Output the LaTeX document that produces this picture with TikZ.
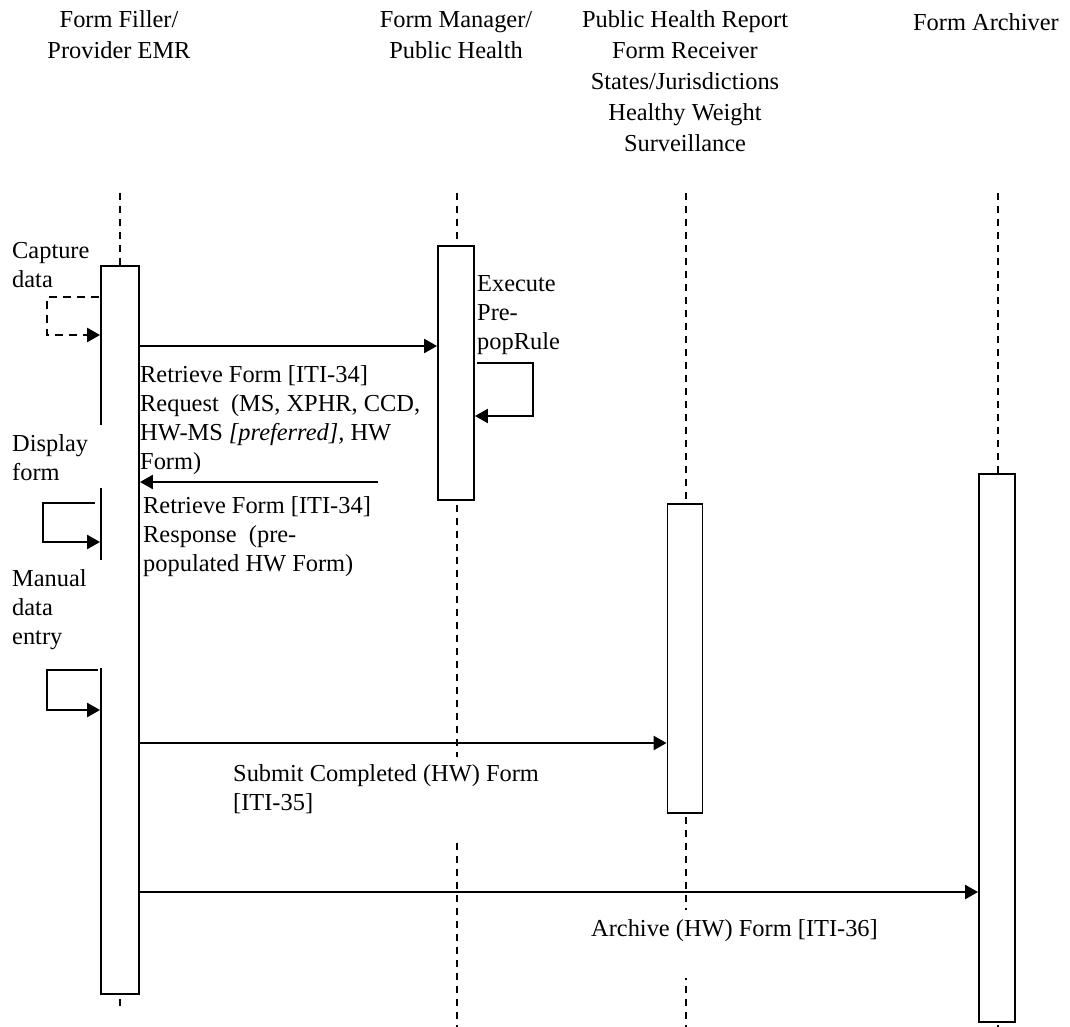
\documentclass[tikz,border=0pt]{standalone}
\usepackage{fontspec}
\setmainfont{Liberation Serif}
\usetikzlibrary{arrows.meta}
\begin{document}
\begin{tikzpicture}[x=1pt,y=-1pt,
  font=\fontsize{24.4}{29}\selectfont,
  lifeline/.style={line width=1.8pt, dash pattern=on 7pt off 6pt},
  actbar/.style={draw, fill=white, line width=1.9pt, inner sep=0pt, minimum width=36pt},
  msg/.style={line width=2.5pt, -{Triangle[length=13pt,width=14pt]}},
  dmsg/.style={msg, dash pattern=on 8pt off 6pt},
  lbl/.style={anchor=base west, inner sep=0pt},
  hdr/.style={anchor=base, inner sep=0pt, font=\fontsize{24.4}{31}\selectfont},
  labelmask/.style={fill=white}
]
\useasboundingbox[fill=white] (0,0) rectangle (1070,1027);

% headers
\node[hdr] (hfill) at (119,28) {\parbox[t]{220pt}{\centering Form Filler/\\Provider EMR}};
\node[hdr] (hman) at (456,28) {\parbox[t]{220pt}{\centering Form Manager/\\Public Health}};
\node[hdr] (hphr) at (685,28) {\parbox[t]{240pt}{\centering Public Health Report\\Form Receiver\\States/Jurisdictions\\Healthy Weight\\Surveillance}};
\node[hdr] (harc) at (986,31) {Form Archiver};

% lifelines
\coordinate (lf1) at (120,193); \coordinate (lf2) at (120,1009);
\coordinate (lm1) at (457,193); \coordinate (lm2) at (457,1027);
\coordinate (lp1) at (686,193); \coordinate (lp2) at (686,1027);
\coordinate (la1) at (998,193); \coordinate (la2) at (998,1027);
\draw[lifeline] (lf1) -- (lf2);
\draw[lifeline] (lm1) -- (lm2);
\draw[lifeline] (lp1) -- (lp2);
\draw[lifeline] (la1) -- (la2);

% activation bars
\node[actbar, minimum width=38pt, minimum height=728pt] (fbar) at (120,630) {};
\node[actbar, minimum height=254pt] (mbar) at (456,373) {};
\node[actbar, minimum width=35pt, minimum height=309pt] (pbar) at (685,658.5) {};
\node[actbar, minimum height=548pt] (abar) at (997,748) {};

% label backgrounds that hide lines
\fill[labelmask] (10,425) rectangle (102.5,488);
\fill[labelmask] (10,560) rectangle (102.5,668);
\fill[labelmask] (228,757) rectangle (548,840);
\fill[labelmask] (585,910) rectangle (885,978);

% messages
\coordinate (cap0) at (99,297);
\draw[dmsg] (cap0) -- (47,297) -- (47,335) -- (fbar.west |- 0,335);
\draw[msg] (fbar.east |- 0,346) -- (mbar.west |- 0,346);
\coordinate (pre0) at (477,363);
\draw[msg] (pre0) -- (533,363) -- (533,416) -- (mbar.east |- 0,416);
\coordinate (resp0) at (378,482);
\draw[msg] (resp0) -- (fbar.east |- 0,482);
\coordinate (disp0) at (95,503);
\draw[msg] (disp0) -- (43,503) -- (43,542) -- (fbar.west |- 0,542);
\coordinate (man0) at (98,670);
\draw[msg] (man0) -- (47,670) -- (47,710) -- (fbar.west |- 0,710);
\draw[msg] (fbar.east |- 0,743) -- (pbar.west |- 0,743);
\draw[msg] (fbar.east |- 0,892) -- (abar.west |- 0,892);

% labels
\node[lbl] (capt) at (12,258) {\parbox[t]{90pt}{Capture\\data}};
\node[lbl] (disp) at (12,451) {\parbox[t]{90pt}{Display\\form}};
\node[lbl] (manu) at (12,586) {\parbox[t]{90pt}{Manual\\data\\entry}};
\node[lbl] (exec) at (477,291) {\parbox[t]{90pt}{Execute\\Pre-\\popRule}};
\node[lbl] (req) at (140,382) {\parbox[t]{300pt}{Retrieve Form [ITI-34]\\Request\ \ (MS, XPHR, CCD,\\HW-MS \textit{[preferred],} HW\\Form)}};
\node[lbl] (resp) at (143,513) {\parbox[t]{300pt}{Retrieve Form [ITI-34]\\Response\ \ (pre-\\populated HW Form)}};
\node[lbl] (subm) at (233,781) {\parbox[t]{330pt}{Submit Completed (HW) Form\\{}[ITI-35]}};
\node[lbl] (arch) at (591,936) {Archive (HW) Form [ITI-36]};
\end{tikzpicture}
\end{document}
